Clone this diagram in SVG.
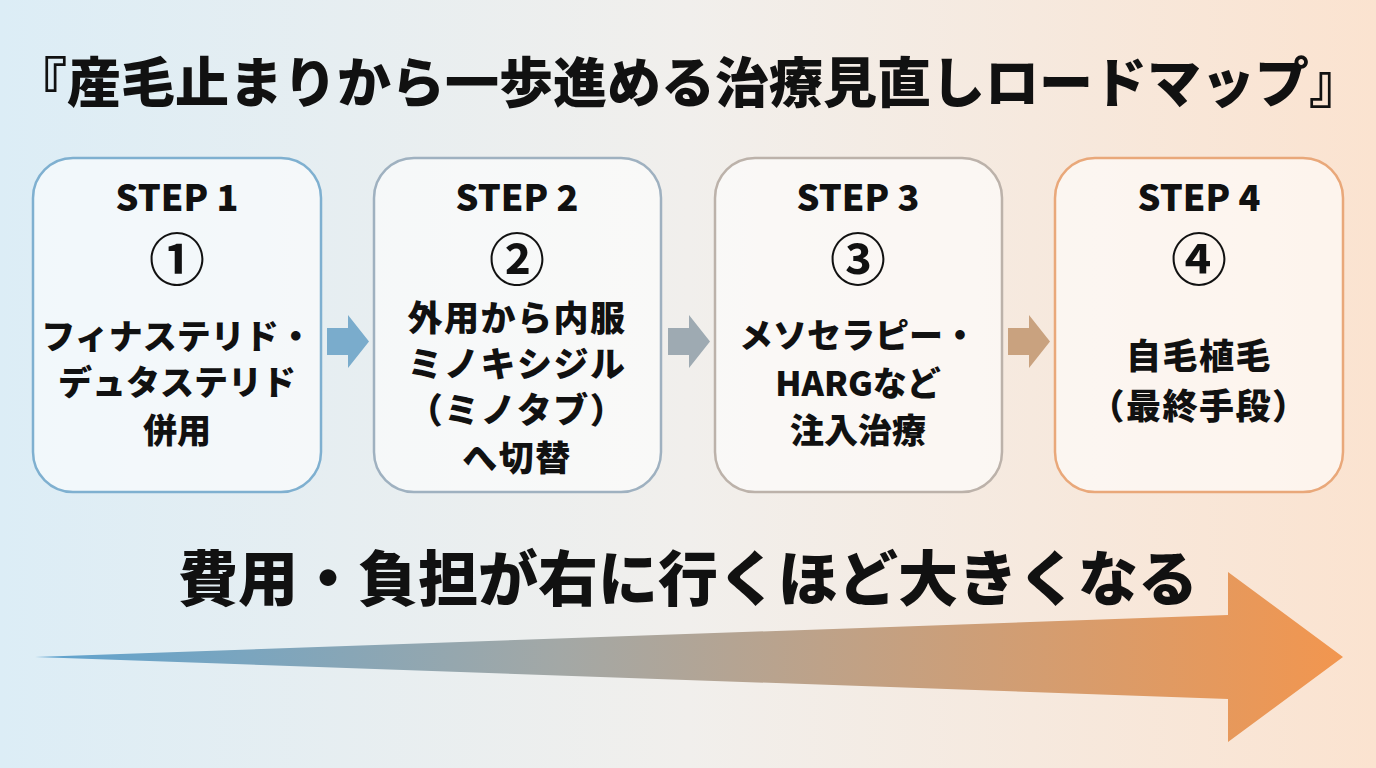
<svg xmlns="http://www.w3.org/2000/svg" width="1376" height="768" viewBox="0 0 1376 768">
<defs>
<linearGradient id="bg" x1="0" y1="0" x2="1" y2="0">
<stop offset="0" stop-color="#dcedf6"/>
<stop offset="0.5" stop-color="#f1efec"/>
<stop offset="1" stop-color="#fbe3d0"/>
</linearGradient>
<linearGradient id="big" x1="35" y1="0" x2="1343" y2="0" gradientUnits="userSpaceOnUse">
<stop offset="0" stop-color="#5fa3cf"/>
<stop offset="0.4" stop-color="#a3a8a6"/>
<stop offset="1" stop-color="#f2964f"/>
</linearGradient>
<style>
.box{fill:#ffffff;fill-opacity:0.6;stroke-width:2.5}
.t{font-family:"Noto Sans CJK JP","Noto Sans",sans-serif;font-weight:900;fill:#111;text-anchor:middle}
.step{font-size:36px}
.num{font-size:56px;font-weight:700}
.body{font-size:34px}
.body2{font-size:35px;letter-spacing:1.5px}
</style>
</defs>
<rect width="1376" height="768" fill="url(#bg)"/>
<text class="t" x="688" y="103" font-size="54">『産毛止まりから一歩進める治療見直しロードマップ』</text>

<g id="connectors">
<polygon points="327,328 348,328 348,315 369,341.5 348,368 348,355 327,355" fill="#7aaccc"/>
<polygon points="668,328 689,328 689,315 710,341.5 689,368 689,355 668,355" fill="#9eaab2"/>
<polygon points="1008,328 1029,328 1029,315 1050,341.5 1029,368 1029,355 1008,355" fill="#c9a27f"/>
</g>

<g id="step1">
<rect class="box" x="33" y="158" width="288" height="334" rx="40" stroke="#7fb0d0"/>
<text class="t step" x="177" y="211">STEP 1</text>
<text class="t num" x="177" y="280">①</text>
<text class="t body" x="177" y="349">フィナステリド・</text>
<text class="t body" x="177" y="395">デュタステリド</text>
<text class="t body" x="177" y="443">併用</text>
</g>
<g id="step2">
<rect class="box" x="374" y="158" width="287" height="334" rx="40" stroke="#9fb1c0"/>
<text class="t step" x="517" y="211">STEP 2</text>
<text class="t num" x="517" y="280">②</text>
<text class="t body2" x="517" y="331">外用から内服</text>
<text class="t body2" x="517" y="377">ミノキシジル</text>
<text class="t body2" x="517" y="423">（ミノタブ）</text>
<text class="t body2" x="517" y="471">へ切替</text>
</g>
<g id="step3">
<rect class="box" x="715" y="158" width="287" height="334" rx="40" stroke="#bcb2aa"/>
<text class="t step" x="858" y="211">STEP 3</text>
<text class="t num" x="858" y="280">③</text>
<text class="t body" x="858" y="348">メソセラピー・</text>
<text class="t body" x="858" y="396">HARGなど</text>
<text class="t body" x="858" y="443">注入治療</text>
</g>
<g id="step4">
<rect class="box" x="1055" y="158" width="288" height="334" rx="40" stroke="#e9a87a"/>
<text class="t step" x="1199" y="211">STEP 4</text>
<text class="t num" x="1199" y="280">④</text>
<text class="t body2" x="1199" y="369">自毛植毛</text>
<text class="t body2" x="1199" y="419">（最終手段）</text>
</g>

<g id="cost-arrow">
<polygon points="35,657 1228,615 1228,572 1343,657 1228,742 1228,699" fill="url(#big)"/>
<text class="t" x="688" y="601" font-size="60">費用・負担が右に行くほど大きくなる</text>
</g>
</svg>
